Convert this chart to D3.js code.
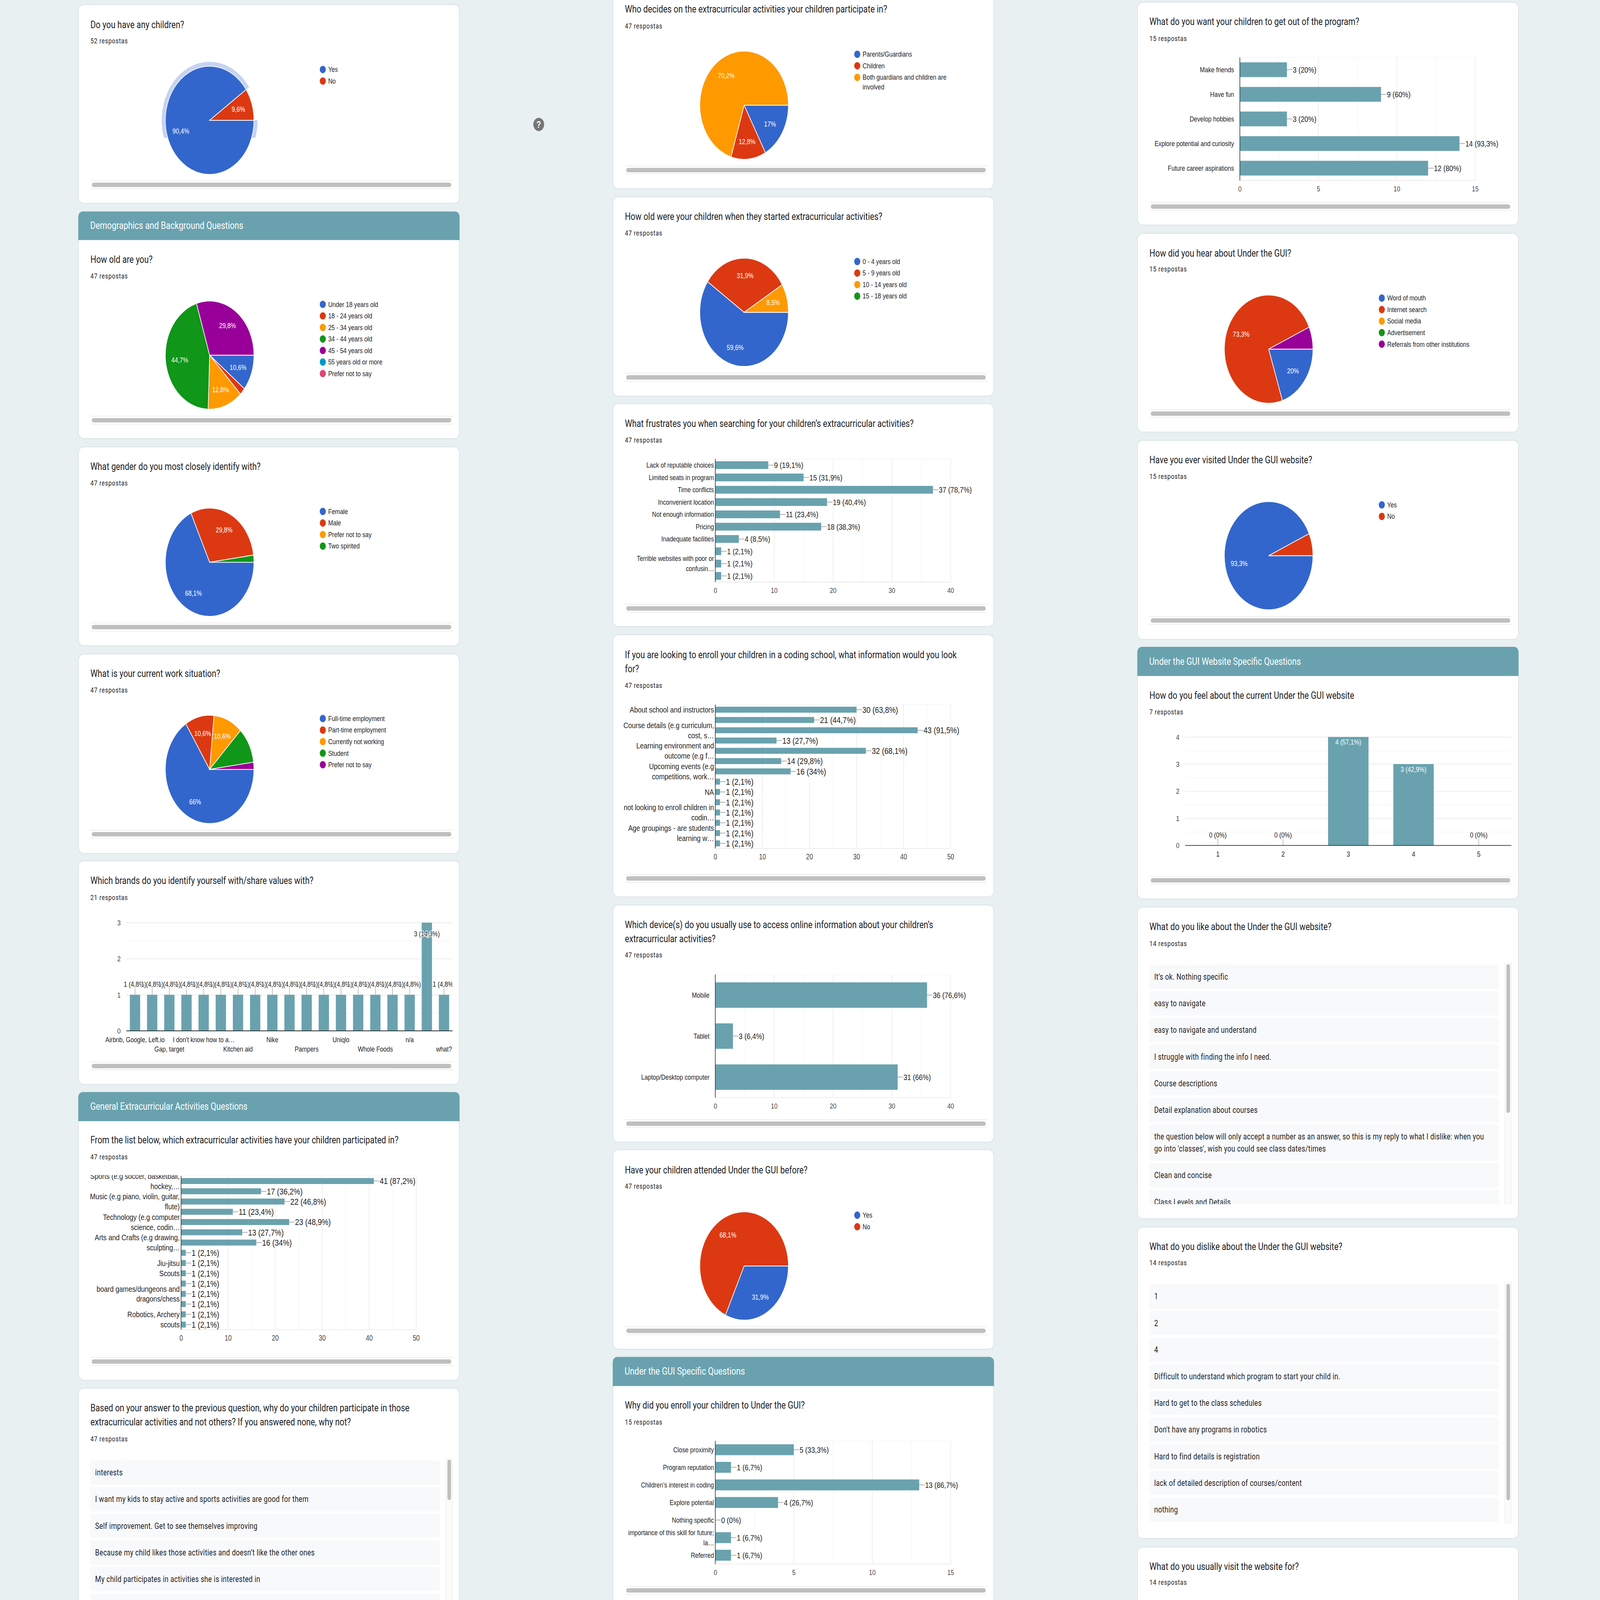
<!DOCTYPE html>
<html>
<head>
<meta charset="utf-8">
<script src="https://d3js.org/d3.v7.min.js"></script>
<style>
  html, body { margin: 0; padding: 0; background: #e8f0f2; width: 100%; height: 100%; overflow: hidden; }
  svg { display: block; width: 100vw; height: 100vh; }
  text { font-family: "Liberation Sans", Arial, sans-serif; }
  .title, .header { font-family: Roboto, sans-serif; }
  .resp { font-family: Roboto, sans-serif; letter-spacing: 1.4px; }
  .item { font-family: Roboto, sans-serif; letter-spacing: 0.6px; }
</style>
</head>
<body>
<svg id="page"></svg>
<script>
// --- data ---
const yesNo = ["Yes", "No"];

const childrenValues = [47, 5];

const ageLabels = ["Under 18 years old", "18 - 24 years old", "25 - 34 years old", "34 - 44 years old", "45 - 54 years old", "55 years old or more", "Prefer not to say"];
const ageValues = [5, 1, 6, 21, 14, 0, 0];

const genderLabels = ["Female", "Male", "Prefer not to say", "Two spirited"];
const genderValues = [32, 14, 0, 1];

const workLabels = ["Full-time employment", "Part-time employment", "Currently not working", "Student", "Prefer not to say"];
const workValues = [31, 5, 5, 5, 1];

const brandLabels = ["Airbnb, Google, Left.io", "", "Gap, target", "", "I don't know how to a…", "", "Kitchen aid", "", "Nike", "", "Pampers", "", "Uniqlo", "", "Whole Foods", "", "n/a", "", "what?"];
const brandValues = [1, 1, 1, 1, 1, 1, 1, 1, 1, 1, 1, 1, 1, 1, 1, 1, 1, 3, 1];

const activityLabels = ["Sports (e.g soccer, basketball,\nhockey,…", "", "Music (e.g piano, violin, guitar,\nflute)", "", "Technology (e.g computer\nscience, codin…", "", "Arts and Crafts (e.g drawing,\nsculpting…", "", "Jiu-jitsu", "Scouts", "", "board games/dungeons and\ndragons/chess", "", "Robotics, Archery", "scouts"];
const activityValues = [41, 17, 22, 11, 23, 13, 16, 1, 1, 1, 1, 1, 1, 1, 1];

const whyAnswers = ["interests", "I want my kids to stay active and sports activities are good for them", "Self improvement. Get to see themselves improving", "Because my child likes those activities and doesn’t like the other ones", "My child participates in activities she is interested in", ""];

const decideLabels = ["Parents/Guardians", "Children", "Both guardians and children are\ninvolved"];
const decideValues = [8, 6, 33];

const startLabels = ["0 - 4 years old", "5 - 9 years old", "10 - 14 years old", "15 - 18 years old"];
const startValues = [28, 15, 4, 0];

const frustrateLabels = ["Lack of reputable choices", "Limited seats in program", "Time conflicts", "Inconvenient location", "Not enough information", "Pricing", "Inadequate facilities", "", "Terrible websites with poor or\nconfusin…", ""];
const frustrateValues = [9, 15, 37, 19, 11, 18, 4, 1, 1, 1];

const codingLabels = ["About school and instructors", "", "Course details (e.g curriculum,\ncost, s…", "", "Learning environment and\noutcome (e.g f…", "", "Upcoming events (e.g\ncompetitions, work…", "", "NA", "", "not looking to enroll children in\ncodin…", "", "Age groupings - are students\nlearning w…", ""];
const codingValues = [30, 21, 43, 13, 32, 14, 16, 1, 1, 1, 1, 1, 1, 1];

const deviceLabels = ["Mobile", "Tablet", "Laptop/Desktop computer"];
const deviceValues = [36, 3, 31];

const attendedValues = [15, 32];

const enrollLabels = ["Close proximity", "Program reputation", "Children’s interest in coding", "Explore potential", "Nothing specific", "importance of this skill for future;\nla…", "Referred"];
const enrollValues = [5, 1, 13, 4, 0, 1, 1];

const programLabels = ["Make friends", "Have fun", "Develop hobbies", "Explore potential and curiosity", "Future career aspirations"];
const programValues = [3, 9, 3, 14, 12];

const hearLabels = ["Word of mouth", "Internet search", "Social media", "Advertisement", "Referrals from other institutions"];
const hearValues = [3, 11, 0, 0, 1];

const visitedValues = [14, 1];

const feelLabels = ["1", "2", "3", "4", "5"];
const feelValues = [0, 0, 4, 3, 0];

const likeAnswers = ["It’s ok. Nothing specific", "easy to navigate", "easy to navigate and understand", "I struggle with finding the info I need.", "Course descriptions", "Detail explanation about courses", "the question below will only accept a number as an answer, so this is my reply to what I dislike: when you\ngo into 'classes', wish you could see class dates/times", "Clean and concise", "Class Levels and Details"];
const dislikeAnswers = ["1", "2", "4", "Difficult to understand which program to start your child in.", "Hard to get to the class schedules", "Don't have any programs in robotics", "Hard to find details is registration", "lack of detailed description of courses/content", "nothing"];

const pieColors = ["#3366cc", "#dc3912", "#ff9900", "#109618", "#990099", "#0099c6", "#dd4477"];
const teal = "#69a2ae";

// --- page ---
// the whole 7113x5825 layout is fitted to whatever window the page actually gets
const svg = d3.select("#page").attr("viewBox", "0 0 7113 5825").attr("preserveAspectRatio", "none");
svg.append("rect").attr("width", 7113).attr("height", 5825).attr("fill", "#e8f0f2");

const defs = svg.append("defs");
let clipCount = 0;
function addClip(x, y, w, h) {
    const id = "clip" + (clipCount++);
    defs.append("clipPath").attr("id", id).append("rect").attr("x", x).attr("y", y).attr("width", w).attr("height", h);
    return "url(#" + id + ")";
}

const cardW = 1693;

function pctText(v, total) {
    const p = Math.round(v / total * 1000) / 10;
    return String(p).replace(".", ",") + "%";
}

function label(g, x, y, txt, size, fill, anchor) {
    return g.append("text").attr("x", x).attr("y", y).attr("dy", ".35em")
        .attr("font-size", size).attr("fill", fill).attr("text-anchor", anchor || "start").text(txt);
}

// white card, optional teal section header, title lines and answer count
function card(o) {
    const g = svg.append("g");
    g.append("rect").attr("x", o.x).attr("y", o.top).attr("width", cardW).attr("height", o.bottom - o.top)
        .attr("rx", 22).attr("fill", "#fff").attr("stroke", "#d9e0e3").attr("stroke-width", 2.5);
    if (o.header) {
        g.append("path").attr("fill", teal)
            .attr("d", `M${o.x - 1},${o.headerBottom}V${o.top + 22}Q${o.x - 1},${o.top} ${o.x + 21},${o.top}H${o.x + cardW - 21}Q${o.x + cardW + 1},${o.top} ${o.x + cardW + 1},${o.top + 22}V${o.headerBottom}Z`);
        label(g, o.x + 52, (o.top + o.headerBottom) / 2 - 1, o.header, 36.5, "#fff").attr("class", "header");
    }
    o.title.forEach((t, i) => {
        label(g, o.x + 53, o.titleY + i * 51, t, 36.3, "#202124").attr("class", "title");
    });
    label(g, o.x + 53, o.respY, o.resp, 26, "#202124").attr("class", "resp");
    if (o.scroll) {
        const sx = o.x + 53;
        g.append("line").attr("x1", sx).attr("x2", sx + 1612).attr("y1", o.scroll - 15).attr("y2", o.scroll - 15).attr("stroke", "#ececec").attr("stroke-width", 2.5);
        g.append("line").attr("x1", sx).attr("x2", sx + 1612).attr("y1", o.scroll + 14).attr("y2", o.scroll + 14).attr("stroke", "#ececec").attr("stroke-width", 2.5);
        g.append("rect").attr("x", sx + 6).attr("y", o.scroll - 8).attr("width", 1598).attr("height", 16).attr("rx", 8).attr("fill", "#bfbfbf");
    }
    return g;
}

function pieChart(x, cy, labels, values, titleY, hideIdx) {
    const g = svg.append("g");
    const R = 197, cx = x + 583;
    const total = d3.sum(values);
    const pie = d3.pie().sort(null).startAngle(Math.PI / 2).endAngle(Math.PI * 2.5);
    const arcs = pie(values);
    const arc = d3.arc().innerRadius(0).outerRadius(R);
    const labelArc = d3.arc().innerRadius(R * 0.68).outerRadius(R * 0.68);
    const slices = g.append("g").attr("transform", `translate(${cx},${cy})`);
    slices.selectAll("path").data(arcs.filter(d => d.value > 0)).enter().append("path")
        .attr("d", arc)
        .attr("fill", d => pieColors[d.index])
        .attr("stroke", "#fff").attr("stroke-width", 2.7);
    arcs.forEach(d => {
        const share = d.value / total;
        if (share < 0.08 || (hideIdx || []).includes(d.index)) return;
        const c = labelArc.centroid(d);
        label(slices, c[0], c[1], pctText(d.value, total), 26.3, "#fff", "middle");
    });
    // legend, long entries wrap on two lines
    let ly = titleY + 164;
    labels.forEach((l, i) => {
        g.append("circle").attr("cx", x + 1086).attr("cy", ly).attr("r", 13.5).attr("fill", pieColors[i]);
        l.split("\n").forEach((part, j) => {
            label(g, x + 1110, ly + j * 35, part, 26.3, "#222");
        });
        ly += 42;
    });
    return { g, cx, cy, R, arcs };
}

function grid(g, axisFn, scale, major, minor, size, tf) {
    const mk = (vals, color, w) => {
        const a = g.append("g").attr("transform", tf).call(axisFn(scale).tickValues(vals).tickSize(size).tickFormat(""));
        a.select(".domain").remove();
        a.selectAll("line").attr("stroke", color).attr("stroke-width", w);
    };
    mk(minor, "#f4f4f4", 2);
    mk(major, "#ebebeb", 2.7);
}

function hbar(o) {
    const g = svg.append("g");
    const total = o.total;
    const catGap = o.catGap || 6;
    const x = d3.scaleLinear().domain([0, o.max]).range([o.left, o.right]);
    const y = d3.scaleBand().domain(d3.range(o.values.length)).range([o.top, o.bottom])
        .paddingInner(o.pad).paddingOuter(o.pad / 2);
    const ticks = d3.range(0, o.max + 1, o.step);
    const minors = d3.range(o.step / 2, o.max, o.step);
    grid(g, d3.axisTop, x, ticks.slice(1), minors, -(o.bottom - o.top), `translate(0,${o.top})`);
    g.append("line").attr("x1", o.left).attr("x2", o.right).attr("y1", o.top).attr("y2", o.top).attr("stroke", "#f4f4f4").attr("stroke-width", 2);
    g.append("line").attr("x1", o.left).attr("x2", o.right).attr("y1", o.bottom).attr("y2", o.bottom).attr("stroke", "#ebebeb").attr("stroke-width", 2.7);

    g.selectAll(".bar").data(o.values).enter().append("rect").attr("class", "bar")
        .attr("x", o.left).attr("y", (d, i) => y(i))
        .attr("width", d => x(d) - o.left).attr("height", y.bandwidth()).attr("fill", teal);

    // leader line and value label at the end of each bar
    o.values.forEach((v, i) => {
        const cy = y(i) + y.bandwidth() / 2;
        g.append("line").attr("x1", x(v)).attr("x2", x(v) + 24).attr("y1", cy).attr("y2", cy).attr("stroke", "#999").attr("stroke-width", 2.2);
        label(g, x(v) + 26, cy, `${v} (${pctText(v, total)})`, o.valSize, "#222");
    });

    // category labels, clipped to the plot top like the reference
    const catG = g.append("g").attr("clip-path", addClip(o.left - 700, o.top - 3, 700, o.bottom - o.top + 20));
    o.labels.forEach((l, i) => {
        if (!l) return;
        const parts = l.split("\n");
        const cy = y(i) + y.bandwidth() / 2;
        parts.forEach((p, j) => {
            label(catG, o.left - catGap, cy + (j - (parts.length - 1) / 2) * 36.8, p, o.catSize, "#222", "end");
        });
    });

    const ax = g.append("g").attr("transform", `translate(0,${o.bottom + 30})`)
        .call(d3.axisBottom(x).tickValues(ticks).tickSize(0).tickPadding(0).tickFormat(d3.format("d")));
    ax.select(".domain").remove();
    ax.selectAll("text").attr("font-size", o.tickSize).attr("font-family", null).attr("fill", "#444").attr("dy", ".35em").attr("y", 0);

    g.append("line").attr("x1", o.left).attr("x2", o.left).attr("y1", o.top).attr("y2", o.bottom).attr("stroke", "#333").attr("stroke-width", 2.7);
}

function vbar(o) {
    const g = svg.append("g");
    const x = d3.scaleBand().domain(d3.range(o.values.length)).range([o.left, o.right]).paddingInner(o.pad).paddingOuter(o.pad / 2);
    const y = d3.scaleLinear().domain([0, o.max]).range([o.bottom, o.top]);
    const ticks = d3.range(1, o.max + 1);
    const minors = d3.range(0.5, o.max, 1);
    grid(g, d3.axisRight, y, ticks, minors, o.right - o.left, `translate(${o.left},0)`);

    g.selectAll(".bar").data(o.values).enter().append("rect").attr("class", "bar")
        .attr("x", (d, i) => x(i)).attr("y", d => y(d))
        .attr("width", x.bandwidth()).attr("height", d => o.bottom - y(d)).attr("fill", teal);

    const valG = g.append("g").attr("clip-path", o.clipRight ? addClip(o.left - 100, o.top - 20, o.right - o.left + 100, o.bottom - o.top + 40) : null);
    o.values.forEach((v, i) => {
        const cx = x(i) + x.bandwidth() / 2;
        const txt = `${v} (${pctText(v, o.total)})`;
        if (o.inside(v)) {
            if (o.halo) {
                valG.append("line").attr("x1", cx).attr("x2", cx).attr("y1", y(v)).attr("y2", y(v) + 27).attr("stroke", "#999").attr("stroke-width", 2);
                label(valG, cx, y(v) + 40, txt, o.valSize, "#222", "middle")
                    .attr("stroke", "#fff").attr("stroke-width", 5).attr("paint-order", "stroke");
            } else {
                label(valG, cx, y(v) + 19, txt, o.valSize, "#fff", "middle");
            }
        } else {
            valG.append("line").attr("x1", cx).attr("x2", cx).attr("y1", y(v)).attr("y2", y(v) - 25).attr("stroke", "#999").attr("stroke-width", 2);
            label(valG, cx, y(v) - 38, txt, o.valSize, "#222", "middle")
                .attr("stroke", "#fff").attr("stroke-width", 5).attr("paint-order", "stroke");
        }
    });

    const ay = g.append("g").attr("transform", `translate(${o.left - 26},0)`)
        .call(d3.axisLeft(y).tickValues(d3.range(0, o.max + 1)).tickSize(0).tickPadding(0).tickFormat(d3.format("d")));
    ay.select(".domain").remove();
    ay.selectAll("text").attr("font-size", o.tickSize).attr("font-family", null).attr("fill", "#444").attr("dy", ".35em").attr("x", 0);

    const ax = g.append("g").attr("transform", `translate(0,${o.bottom})`)
        .call(d3.axisBottom(x).tickSize(0).tickPadding(0).tickFormat(i => o.labels[i]));
    ax.select(".domain").remove();
    ax.selectAll("text").attr("font-size", o.tickSize).attr("font-family", null).attr("fill", "#222")
        .attr("dy", ".35em").attr("y", (d, i) => o.twoRows && i % 4 === 2 ? 66 : 32);

    g.append("line").attr("x1", o.left).attr("x2", o.right).attr("y1", o.bottom).attr("y2", o.bottom).attr("stroke", "#333").attr("stroke-width", 2.7);
}

// scrolled list of free text answers
function answers(x, top, bottom, list, itemH, trackTop, trackBottom, thumbBottom) {
    const g = svg.append("g").attr("clip-path", addClip(x, trackTop, cardW, bottom - trackTop));
    let y = top;
    list.forEach(t => {
        const parts = t.split("\n");
        const h = parts.length > 1 ? itemH + 44 : itemH;
        g.append("rect").attr("x", x + 52).attr("y", y).attr("width", 1555).attr("height", h).attr("rx", 8).attr("fill", "#f8f9fa");
        parts.forEach((p, j) => {
            label(g, x + 74, y + (parts.length > 1 ? 44 + j * 44 : h / 2), p, 30.3, "#202124").attr("class", "item");
        });
        y += h + 9;
    });
    g.append("rect").attr("x", x + 1633).attr("y", trackTop).attr("width", 29).attr("height", trackBottom - trackTop)
        .attr("fill", "#fafafa").attr("stroke", "#ececec").attr("stroke-width", 2);
    g.append("rect").attr("x", x + 1640).attr("y", trackTop + 6).attr("width", 16).attr("height", thumbBottom - trackTop - 6).attr("rx", 8).attr("fill", "#bfbfbf");
}

// --- column 1 ---
const c1 = 349;
card({ x: c1, top: 17, bottom: 740, title: ["Do you have any children?"], titleY: 89, resp: "52 respostas", respY: 149, scroll: 673 });
const havePie = pieChart(c1, 438, yesNo, childrenValues, 89);
// pale hover ring left on the first slice, cut off at the bottom in the screenshot
svg.append("path").attr("transform", `translate(${havePie.cx},${havePie.cy})`)
    .attr("clip-path", addClip(-400, -400, 800, 464))
    .attr("d", d3.arc().innerRadius(havePie.R + 1).outerRadius(havePie.R + 16)(havePie.arcs[0]))
    .attr("fill", "#c6d3f1");

card({ x: c1, top: 770, headerBottom: 874, header: "Demographics and Background Questions", bottom: 1597, title: ["How old are you?"], titleY: 944, resp: "47 respostas", respY: 1005, scroll: 1530 });
pieChart(c1, 1293, ageLabels, ageValues, 944);

card({ x: c1, top: 1627, bottom: 2351, title: ["What gender do you most closely identify with?"], titleY: 1698, resp: "47 respostas", respY: 1758, scroll: 2283 });
pieChart(c1, 2047, genderLabels, genderValues, 1698);

card({ x: c1, top: 2381, bottom: 3107, title: ["What is your current work situation?"], titleY: 2452, resp: "47 respostas", respY: 2512, scroll: 3037 });
pieChart(c1, 2801, workLabels, workValues, 2452, [3]);

card({ x: c1, top: 3134, bottom: 3948, title: ["Which brands do you identify yourself with/share values with?"], titleY: 3206, resp: "21 respostas", respY: 3268, scroll: 3881 });
vbar({ left: 562, right: 2012, top: 3359, bottom: 3753, max: 3, values: brandValues, labels: brandLabels, total: 21, pad: 0.4, valSize: 26.5, tickSize: 26.5, twoRows: true, clipRight: true, halo: true, inside: v => v === 3 });

card({ x: c1, top: 3976, headerBottom: 4082, header: "General Extracurricular Activities Questions", bottom: 5025, title: ["From the list below, which extracurricular activities have your children participated in?"], titleY: 4150, resp: "47 respostas", respY: 4212, scroll: 4957 });
hbar({ left: 805, right: 1850, top: 4281, bottom: 4841, max: 50, step: 10, values: activityValues, labels: activityLabels, total: 47, pad: 0.42, valSize: 32.5, catSize: 29.7, tickSize: 27.5 });

card({ x: c1, top: 5054, bottom: 5900, title: ["Based on your answer to the previous question, why do your children participate in those", "extracurricular activities and not others? If you answered none, why not?"], titleY: 5126, resp: "47 respostas", respY: 5238 });
answers(c1, 5317, 5825, whyAnswers, 88, 5308, 5900, 5461);

// --- column 2 ---
const c2 = 2725;
card({ x: c2, top: -38, bottom: 687, title: ["Who decides on the extracurricular activities your children participate in?"], titleY: 33.5, resp: "47 respostas", respY: 95, scroll: 619 });
pieChart(c2, 383, decideLabels, decideValues, 33.5);

card({ x: c2, top: 717, bottom: 1442, title: ["How old were your children when they started extracurricular activities?"], titleY: 788, resp: "47 respostas", respY: 848, scroll: 1374 });
pieChart(c2, 1137, startLabels, startValues, 788);

card({ x: c2, top: 1470, bottom: 2281, title: ["What frustrates you when searching for your children’s extracurricular activities?"], titleY: 1541, resp: "47 respostas", respY: 1602, scroll: 2215 });
hbar({ left: 3180, right: 4226, top: 1671, bottom: 2119, max: 40, step: 10, values: frustrateValues, labels: frustrateLabels, total: 47, pad: 0.37, valSize: 30, catSize: 26.5, tickSize: 26.5 });

card({ x: c2, top: 2311, bottom: 3265, title: ["If you are looking to enroll your children in a coding school, what information would you look", "for?"], titleY: 2384, resp: "47 respostas", respY: 2495, scroll: 3198 });
hbar({ left: 3180, right: 4226, top: 2565, bottom: 3089, max: 50, step: 10, values: codingValues, labels: codingLabels, total: 47, pad: 0.42, valSize: 32.5, catSize: 29.7, tickSize: 27.5 });

card({ x: c2, top: 3295, bottom: 4158, title: ["Which device(s) do you usually use to access online information about your children’s", "extracurricular activities?"], titleY: 3366, resp: "47 respostas", respY: 3477, scroll: 4091 });
hbar({ left: 3180, right: 4226, top: 3548, bottom: 3996, max: 40, step: 10, values: deviceValues, labels: deviceLabels, total: 47, pad: 0.38, valSize: 30, catSize: 26.5, tickSize: 26.5, catGap: 26 });

card({ x: c2, top: 4186, bottom: 4912, title: ["Have your children attended Under the GUI before?"], titleY: 4260, resp: "47 respostas", respY: 4319, scroll: 4845 });
pieChart(c2, 4609, yesNo, attendedValues, 4260);

card({ x: c2, top: 4940, headerBottom: 5046, header: "Under the GUI Specific Questions", bottom: 5858, title: ["Why did you enroll your children to Under the GUI?"], titleY: 5116, resp: "15 respostas", respY: 5177, scroll: 5790 });
hbar({ left: 3180, right: 4226, top: 5246, bottom: 5694, max: 15, step: 5, values: enrollValues, labels: enrollLabels, total: 15, pad: 0.38, valSize: 30, catSize: 26.5, tickSize: 26.5 });

// --- column 3 ---
const c3 = 5057;
card({ x: c3, top: 8, bottom: 819, title: ["What do you want your children to get out of the program?"], titleY: 79, resp: "15 respostas", respY: 140, scroll: 752 });
hbar({ left: 5512, right: 6558, top: 209, bottom: 657, max: 15, step: 5, values: programValues, labels: programLabels, total: 15, pad: 0.4, valSize: 30, catSize: 26.5, tickSize: 26.5, catGap: 26 });

card({ x: c3, top: 850, bottom: 1573, title: ["How did you hear about Under the GUI?"], titleY: 921, resp: "15 respostas", respY: 980, scroll: 1506 });
pieChart(c3, 1271, hearLabels, hearValues, 921);

card({ x: c3, top: 1603, bottom: 2328, title: ["Have you ever visited Under the GUI website?"], titleY: 1674, resp: "15 respostas", respY: 1734, scroll: 2259 });
pieChart(c3, 2023, yesNo, visitedValues, 1674);

card({ x: c3, top: 2355, headerBottom: 2461, header: "Under the GUI Website Specific Questions", bottom: 3273, title: ["How do you feel about the current Under the GUI website"], titleY: 2531, resp: "7 respostas", respY: 2592, scroll: 3205 });
vbar({ left: 5269, right: 6719, top: 2683, bottom: 3078, max: 4, values: feelValues, labels: feelLabels, total: 7, pad: 0.38, valSize: 26.5, tickSize: 26.5, inside: v => v > 0 });

card({ x: c3, top: 3302, bottom: 4437, title: ["What do you like about the Under the GUI website?"], titleY: 3373, resp: "14 respostas", respY: 3435 });
answers(c3, 3512, 4384, likeAnswers, 88, 3504, 4384, 4052);

card({ x: c3, top: 4467, bottom: 5601, title: ["What do you dislike about the Under the GUI website?"], titleY: 4538, resp: "14 respostas", respY: 4597 });
answers(c3, 4676, 5546, dislikeAnswers, 88, 4668, 5546, 5462);

card({ x: c3, top: 5632, bottom: 5900, title: ["What do you usually visit the website for?"], titleY: 5703, resp: "14 respostas", respY: 5761 });

// help button between the columns
const help = svg.append("g").attr("transform", "translate(2395,453)");
help.append("circle").attr("r", 24).attr("fill", "#757575");
label(help, 0, 0, "?", 33, "#fff", "middle").attr("font-weight", "bold");
</script>
</body>
</html>
